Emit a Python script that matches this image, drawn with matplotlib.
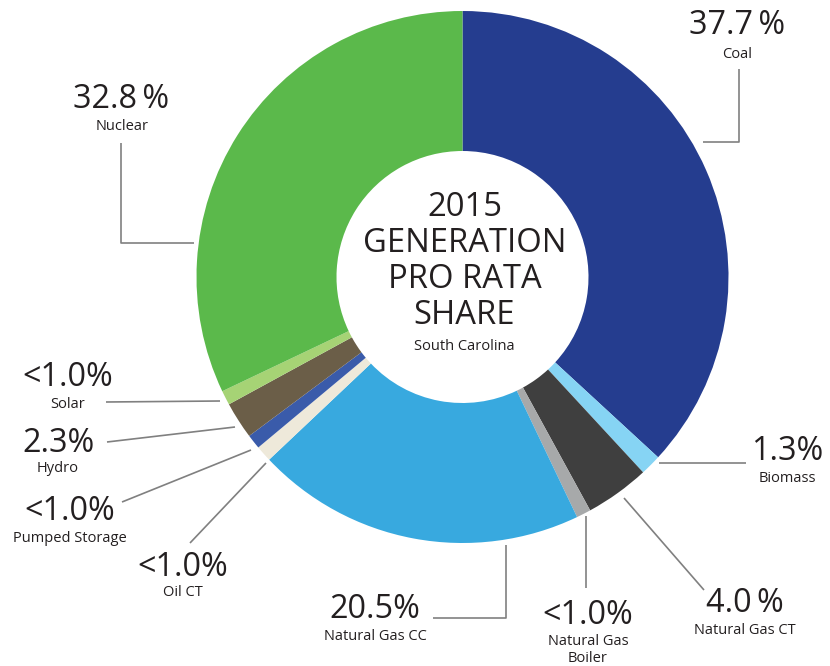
import matplotlib
matplotlib.use("Agg")
import matplotlib.pyplot as plt

plt.rcParams['font.family'] = ['Open Sans', 'DejaVu Sans']

# ---- data ----
sources = ["Coal", "Biomass", "Natural Gas CT", "Natural Gas\nBoiler", "Natural Gas CC",
           "Oil CT", "Pumped Storage", "Hydro", "Solar", "Nuclear"]
shares = [37.7, 1.3, 4.0, 0.9, 20.5, 1.0, 0.9, 2.3, 0.9, 32.8]
share_labels = ["37.7\u2009%", "1.3%", "4.0\u2009%", "<1.0%", "20.5%",
                "<1.0%", "<1.0%", "2.3%", "<1.0%", "32.8\u2009%"]
colors = ["#253D8F", "#86D4F4", "#3F3F3F", "#A7A9AA", "#38A9DF",
          "#EEE9DA", "#3A5BAA", "#6B5E48", "#A6D375", "#5BB94B"]
title_lines = ["2015", "GENERATION", "PRO RATA", "SHARE"]
subtitle = "South Carolina"

W, H = 830, 666
fig = plt.figure(figsize=(W / 100, H / 100), dpi=100)
ax = fig.add_axes([0, 0, 1, 1])
ax.set_xlim(0, W)
ax.set_ylim(0, H)
ax.set_aspect('equal')
ax.axis('off')

def Y(y):
    return H - y

cx, cy, R, r_in = 462.5, 277, 266, 126
ax.pie(shares, colors=colors, startangle=90, counterclock=False,
       center=(cx, Y(cy)), radius=R, frame=True,
       wedgeprops=dict(width=R - r_in, linewidth=0, antialiased=True))
ax.set_xlim(0, W)
ax.set_ylim(0, H)
ax.axis('off')

TXT = "#231F20"
LINE = "#808080"

# center text
for s, yy in zip(title_lines, [208, 244, 280, 315]):
    ax.text(cx + 2, Y(yy), s, ha='center', va='center', fontsize=23.6, color=TXT)
ax.text(cx + 2, Y(346), subtitle, ha='center', va='center', fontsize=10.5, color=TXT)

# label positions (pixel coords, image-style y)
pct_pos = [(737, 25), (787, 452), (745, 603), (588, 615), (375, 610),
           (183, 568), (70, 512), (58, 443), (68, 378), (121, 100)]
name_pos = [(737, 54), (787, 479), (745, 630), (588, 650), (375, 637),
            (183, 592), (70, 538), (58, 469), (68, 404), (122, 127)]
leaders = [
    [(703, 142), (739, 142), (739, 69)],
    [(659, 463), (746, 463)],
    [(624, 498), (704, 590)],
    [(586, 516), (586, 588)],
    [(506, 545), (506, 618), (433, 618)],
    [(266, 463), (190, 543)],
    [(251, 450), (122, 502)],
    [(235, 427), (107, 442)],
    [(220, 401), (106, 402)],
    [(194, 243), (121, 243), (121, 143)],
]

for s, lab, (px, py), (nx, ny), pts in zip(sources, share_labels, pct_pos, name_pos, leaders):
    ax.text(px, Y(py), lab, ha='center', va='center', fontsize=23.3, color=TXT)
    ax.text(nx, Y(ny), s, ha='center', va='center', fontsize=10.5, color=TXT,
            linespacing=1.25)
    xs = [p[0] for p in pts]
    ys = [Y(p[1]) for p in pts]
    ax.plot(xs, ys, color=LINE, lw=1.2, solid_capstyle='butt')

fig.savefig("out.png", dpi=100, facecolor='white')
